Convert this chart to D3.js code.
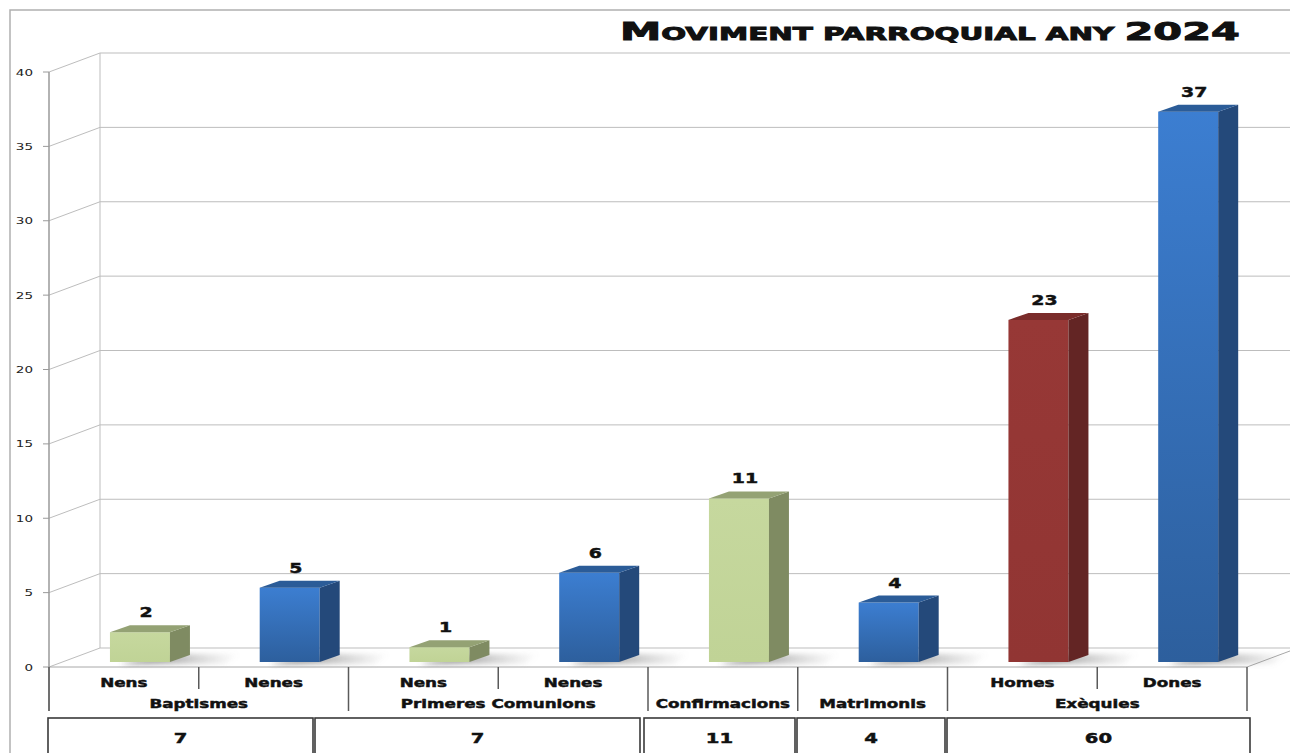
<!DOCTYPE html>
<html>
<head>
<meta charset="utf-8">
<script src="https://cdn.jsdelivr.net/npm/d3@7"></script>
<style>
  html, body { margin: 0; padding: 0; background: #fff; }
  svg { display: block; }
  text { font-family: "DejaVu Sans", sans-serif; }
</style>
</head>
<body>
<svg id="chart" width="1290" height="753"></svg>
<script>
var groups = ['Baptismes', 'Baptismes', 'Primeres Comunions', 'Primeres Comunions',
  'Confirmacions', 'Matrimonis', 'Exèquies', 'Exèquies'];
var subLabels = ['Nens', 'Nenes', 'Nens', 'Nenes', '', '', 'Homes', 'Dones'];
var values = [2, 5, 1, 6, 11, 4, 23, 37];
var yTicks = [0, 5, 10, 15, 20, 25, 30, 35, 40];
var titleParts = [['M', 'big'], ['OVIMENT PARROQUIAL ANY ', 'small'], ['2024', 'big']];

// totals row (one box per group)
var groupNames = ['Baptismes', 'Primeres Comunions', 'Confirmacions', 'Matrimonis', 'Exèquies'];
var totals = groupNames.map(function(g) {
  return d3.sum(values.filter(function(v, i) { return groups[i] === g; }));
});
// table column edges, as drawn in the original
var tableCols = [[48, 313], [315, 640], [644, 795], [797, 945], [947, 1250]];

var colors = {
  green: { front: ['#c6d89e', '#c0d396'], side: '#7f8b62', top: '#94a274' },
  blue: { front: ['#3c7ed1', '#2d5f9d'], side: '#24497a', top: '#2b5c98' },
  red: { front: ['#973836', '#913533'], side: '#632524', top: '#7a2c2a' }
};
var colorKey = { Nens: 'green', Nenes: 'blue', Confirmacions: 'green', Matrimonis: 'blue', Homes: 'red', Dones: 'blue' };

var svg = d3.select('#chart');
var defs = svg.append('defs');

var left = 49, right = 1247;
var depth = { dx: 51, dy: -19 };
var bar = { off: 0.407, w: 60, dx: 20, dy: -7, sink: 5 };

var y = d3.scaleLinear().domain([0, 40]).range([667, 72]);
var x = d3.scaleBand().domain(d3.range(values.length)).range([left, right]);

Object.keys(colors).forEach(function(k) {
  var g = defs.append('linearGradient').attr('id', 'front-' + k)
    .attr('x1', 0).attr('y1', 0).attr('x2', 0).attr('y2', 1);
  g.append('stop').attr('offset', '0%').attr('stop-color', colors[k].front[0]);
  g.append('stop').attr('offset', '100%').attr('stop-color', colors[k].front[1]);
});
var sh = defs.append('linearGradient').attr('id', 'shadow')
  .attr('x1', 0).attr('y1', 0).attr('x2', 1).attr('y2', 0);
sh.append('stop').attr('offset', '0%').attr('stop-color', '#555').attr('stop-opacity', 0.9);
sh.append('stop').attr('offset', '100%').attr('stop-color', '#999').attr('stop-opacity', 0);
defs.append('filter').attr('id', 'blur').attr('x', '-20%').attr('y', '-50%').attr('width', '140%').attr('height', '200%')
  .append('feGaussianBlur').attr('stdDeviation', 2.5);

function stretched(parent, str, px, py, size, k, anchor, weight) {
  return parent.append('text')
    .attr('transform', 'translate(' + px + ',' + py + ') scale(' + k + ',1)')
    .attr('text-anchor', anchor || 'middle')
    .attr('font-size', size)
    .attr('font-weight', weight || 'bold')
    .attr('fill', '#111')
    .attr('stroke', weight === 'normal' ? 'none' : '#111')
    .attr('stroke-width', 0.45)
    .text(str);
}

// outer frame
svg.append('path').attr('d', 'M10,753 V10 H1290')
  .attr('fill', 'none').attr('stroke', '#b0b0b0').attr('stroke-width', 1.5);

// back wall + side wall gridlines
var grid = svg.append('g').attr('class', 'grid');
grid.selectAll('path.g').data(yTicks).enter().append('path')
  .attr('class', 'g')
  .attr('d', function(t) {
    var yy = y(t);
    return 'M' + left + ',' + yy + ' L' + (left + depth.dx) + ',' + (yy + depth.dy) + ' H1290';
  })
  .attr('fill', 'none').attr('stroke', '#bdbdbd').attr('stroke-width', 1);
grid.append('line')
  .attr('x1', left + depth.dx).attr('x2', left + depth.dx)
  .attr('y1', y(40) + depth.dy).attr('y2', y(0) + depth.dy)
  .attr('stroke', '#bdbdbd');
// floor front edge
grid.append('path')
  .attr('d', 'M' + left + ',' + y(0) + ' H' + right + ' L' + (right + depth.dx) + ',' + (y(0) + depth.dy))
  .attr('fill', 'none').attr('stroke', '#a8a8a8').attr('stroke-width', 1);

// y axis
var yAxis = svg.append('g').attr('class', 'y-axis');
yAxis.append('line').attr('x1', left).attr('x2', left).attr('y1', y(40)).attr('y2', 711)
  .attr('stroke', '#9a9a9a').attr('stroke-width', 1.5);
yAxis.selectAll('line.tick').data(yTicks).enter().append('line')
  .attr('class', 'tick')
  .attr('x1', left - 6).attr('x2', left).attr('y1', y).attr('y2', y)
  .attr('stroke', '#9a9a9a');
yTicks.forEach(function(t) {
  stretched(yAxis, t, 33, y(t) + 3.5, 9, 1.5, 'end', 'normal').attr('fill', '#222');
});

// bars
var bars = svg.append('g').attr('class', 'bars');
var items = values.map(function(v, i) {
  var key = colorKey[subLabels[i] || groups[i]];
  var x0 = x(i) + x.bandwidth() * bar.off;
  return { v: v, i: i, key: key, x0: x0, yb: y(0) - bar.sink, yt: y(v) - bar.sink };
});

bars.selectAll('path.shadow').data(items).enter().append('path')
  .attr('class', 'shadow')
  .attr('d', function(d) {
    var x1 = d.x0 + bar.w;
    return 'M' + (d.x0 + 10) + ',' + (d.yb + 2) + ' L' + (x1 + 55) + ',' + (d.yb + 2) +
      ' L' + (x1 + 70) + ',' + (d.yb - 8) + ' L' + (x1 + 10) + ',' + (d.yb - 8) + 'Z';
  })
  .attr('fill', 'url(#shadow)').attr('filter', 'url(#blur)');

var barG = bars.selectAll('g.bar').data(items).enter().append('g').attr('class', 'bar');
barG.append('rect')
  .attr('x', function(d) { return d.x0; })
  .attr('y', function(d) { return d.yt; })
  .attr('width', bar.w)
  .attr('height', function(d) { return d.yb - d.yt; })
  .attr('fill', function(d) { return 'url(#front-' + d.key + ')'; });
barG.append('path')
  .attr('d', function(d) {
    var x1 = d.x0 + bar.w;
    return 'M' + x1 + ',' + d.yb + ' L' + (x1 + bar.dx) + ',' + (d.yb + bar.dy) +
      ' L' + (x1 + bar.dx) + ',' + (d.yt + bar.dy) + ' L' + x1 + ',' + d.yt + 'Z';
  })
  .attr('fill', function(d) { return colors[d.key].side; });
barG.append('path')
  .attr('d', function(d) {
    var x1 = d.x0 + bar.w;
    return 'M' + d.x0 + ',' + d.yt + ' L' + x1 + ',' + d.yt + ' L' + (x1 + bar.dx) + ',' + (d.yt + bar.dy) +
      ' L' + (d.x0 + bar.dx) + ',' + (d.yt + bar.dy) + 'Z';
  })
  .attr('fill', function(d) { return colors[d.key].top; });

items.forEach(function(d) {
  stretched(bars, d.v, d.x0 + bar.w / 2 + 6, d.yt + bar.dy - 8, 13.5, 1.4);
});

// category axis (two levels)
var cat = svg.append('g').attr('class', 'x-axis');
var bounds = d3.range(values.length + 1);
cat.selectAll('line.div').data(bounds).enter().append('line')
  .attr('class', 'div')
  .attr('x1', function(b) { return b < values.length ? x(b) : right; })
  .attr('x2', function(b) { return b < values.length ? x(b) : right; })
  .attr('y1', y(0))
  .attr('y2', function(b) {
    var isGroupEdge = b === 0 || b === values.length || groups[b] !== groups[b - 1];
    return isGroupEdge ? 711 : 689;
  })
  .attr('stroke', '#5a5a5a').attr('stroke-width', 1.5);

subLabels.forEach(function(s, i) {
  if (s) stretched(cat, s, x(i) + x.bandwidth() / 2, 687, 12, 1.4);
});
groupNames.forEach(function(g) {
  var idx = groups.map(function(n, i) { return n === g ? i : -1; }).filter(function(i) { return i >= 0; });
  var cx = (x(idx[0]) + x(idx[idx.length - 1]) + x.bandwidth()) / 2;
  stretched(cat, g, cx, 708, 12, 1.4);
});

// totals table
var table = svg.append('g').attr('class', 'totals');
table.selectAll('rect').data(tableCols).enter().append('rect')
  .attr('x', function(c) { return c[0]; })
  .attr('y', 718)
  .attr('width', function(c) { return c[1] - c[0]; })
  .attr('height', 60)
  .attr('fill', 'none').attr('stroke', '#3a3a3a').attr('stroke-width', 1.6);
totals.forEach(function(t, i) {
  stretched(table, t, (tableCols[i][0] + tableCols[i][1]) / 2, 743, 14, 1.4);
});

// title, stretched to the original's span
var title = svg.append('text')
  .attr('font-weight', 'bold').attr('fill', '#111')
  .attr('stroke', '#111').attr('stroke-width', 0.9);
titleParts.forEach(function(p) {
  title.append('tspan').attr('font-size', p[1] === 'big' ? 24 : 17).text(p[0]);
});
var tw = title.node().getComputedTextLength();
title.attr('transform', 'translate(620,40) scale(' + (620 / tw) + ',1)');
</script>
</body>
</html>
